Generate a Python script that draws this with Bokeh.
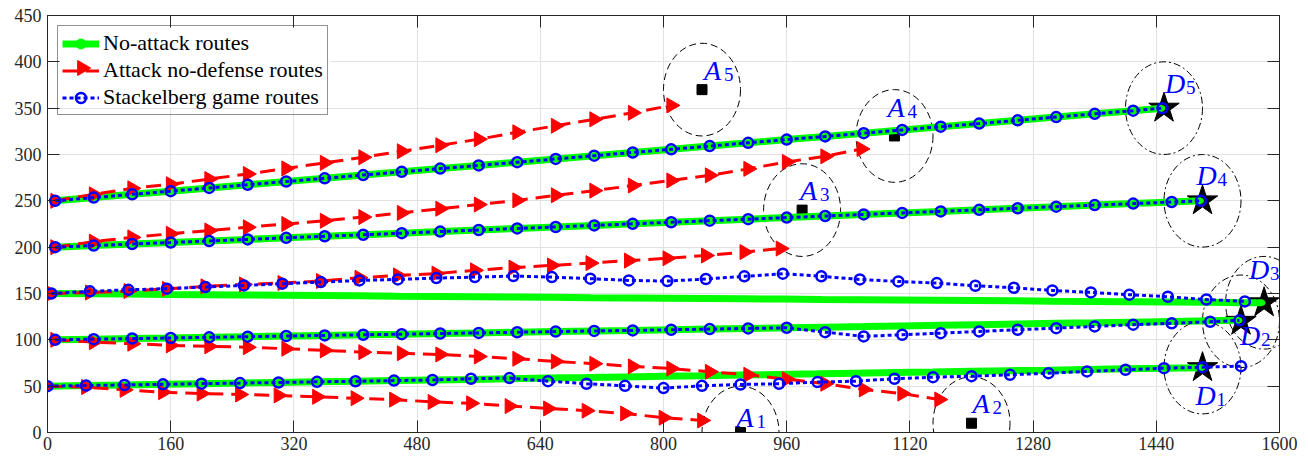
import numpy as np
from bokeh.plotting import figure
from bokeh.models import (Range1d, FixedTicker, LinearAxis, Legend, LegendItem,
                          ColumnDataSource, CustomJSTickFormatter)
from bokeh.core.properties import value
from bokeh.embed import file_html
from bokeh.resources import INLINE

# ---------------- data ----------------
x_ticks = [0, 160, 320, 480, 640, 800, 960, 1120, 1280, 1440, 1600]
y_ticks = [0, 50, 100, 150, 200, 250, 300, 350, 400, 450]

# attackers and destinations
att_x = [900, 1200, 980, 1100, 850]
att_y = [0, 10, 240, 320, 370]
att_name = ["A", "A", "A", "A", "A"]
att_sub = ["1", "2", "3", "4", "5"]

dst_x = [1500, 1550, 1580, 1500, 1450]
dst_y = [70, 120, 140, 250, 350]
dst_name = ["D", "D", "D", "D", "D"]
dst_sub = ["1", "2", "3", "4", "5"]
zone_radius = 50

# no-attack routes (green)
g_x1 = [0, 50, 100, 150, 200, 250, 300, 350, 400, 450, 500, 550, 600, 650, 700, 750,
        800, 850, 900, 950, 1000, 1050, 1100, 1150, 1200, 1250, 1300, 1350, 1400,
        1450, 1500]
g_y1 = [50, 50.7, 51.3, 52, 52.7, 53.3, 54, 54.7, 55.3, 56, 56.7, 57.3, 58, 58.7,
        59.3, 60, 60.7, 61.3, 62, 62.7, 63.3, 64, 64.7, 65.3, 66, 66.7, 67.3, 68,
        68.7, 69.3, 70]
g_x2 = [10, 60, 110, 160, 210, 260, 310, 360, 410, 460, 510, 560, 610, 660, 710, 760,
        810, 860, 910, 960, 1010, 1060, 1110, 1160, 1210, 1260, 1310, 1360, 1410,
        1460, 1510, 1548]
g_y2 = [100, 100.7, 101.4, 102, 102.7, 103.4, 104.1, 104.8, 105.5, 106.1, 106.8,
        107.5, 108.2, 108.9, 109.6, 110.2, 110.9, 111.6, 112.3, 113, 113.7, 114.3,
        115, 115.7, 116.4, 117.1, 117.8, 118.4, 119.1, 119.8, 120.5, 121]
g_x3 = [5, 55, 105, 155, 205, 255, 305, 355, 405, 455, 505, 555, 605, 655, 705, 755,
        805, 855, 905, 955, 1005, 1055, 1105, 1155, 1205, 1255, 1305, 1355, 1405,
        1455, 1505, 1555, 1578]
g_y3 = [150, 149.7, 149.4, 149, 148.7, 148.4, 148.1, 147.8, 147.5, 147.1, 146.8,
        146.5, 146.2, 145.9, 145.5, 145.2, 144.9, 144.6, 144.3, 144, 143.6, 143.3,
        143, 142.7, 142.4, 142.1, 141.7, 141.4, 141.1, 140.8, 140.5, 140.1, 140]
g_x4 = [10, 60, 110, 160, 210, 260, 310, 360, 410, 460, 510, 560, 610, 660, 710, 760,
        810, 860, 910, 960, 1010, 1060, 1110, 1160, 1210, 1260, 1310, 1360, 1410,
        1460, 1498]
g_y4 = [200, 201.7, 203.4, 205, 206.7, 208.4, 210.1, 211.8, 213.4, 215.1, 216.8,
        218.5, 220.2, 221.8, 223.5, 225.2, 226.9, 228.6, 230.2, 231.9, 233.6, 235.3,
        237, 238.6, 240.3, 242, 243.7, 245.4, 247, 248.7, 250]
g_x5 = [10, 60, 110, 160, 210, 260, 310, 360, 410, 460, 510, 560, 610, 660, 710, 760,
        810, 860, 910, 960, 1010, 1060, 1110, 1160, 1210, 1260, 1310, 1360, 1410, 1448]
g_y5 = [250, 253.5, 257, 260.4, 263.9, 267.4, 270.9, 274.3, 277.8, 281.3, 284.8,
        288.2, 291.7, 295.2, 298.7, 302.2, 305.6, 309.1, 312.6, 316.1, 319.5, 323,
        326.5, 330, 333.4, 336.9, 340.4, 343.9, 347.3, 350]

# attack, no defense (red)
r_x1 = [0, 50, 100, 150, 200, 250, 300, 350, 400, 450, 500, 550, 600, 650, 700, 750,
        800, 850]
r_y1 = [50, 49, 46, 43.5, 42, 41, 40, 38.5, 37, 35.5, 33, 31.5, 28.5, 26, 23.5, 20.5,
        16, 13]
r_x2 = [10, 60, 110, 160, 210, 260, 310, 360, 410, 460, 510, 560, 610, 660, 710, 760,
        810, 860, 910, 960, 1010, 1060, 1110, 1158]
r_y2 = [100, 97.5, 95.8, 94, 93, 92, 90.4, 88.6, 86.7, 85.5, 84.2, 82, 79.6, 76.7,
        74.2, 71.3, 69, 65.5, 62.3, 57.5, 52.6, 46.5, 42, 35.6]
r_x3 = [5, 55, 105, 155, 205, 255, 305, 355, 405, 455, 505, 555, 605, 655, 705, 755,
        805, 855, 905, 952]
r_y3 = [150, 151, 152.6, 155, 157.7, 159.8, 161.3, 163.5, 167, 169.5, 171.5, 175, 178,
        180.3, 182.8, 185.5, 188, 191, 194.7, 198.5]
r_x4 = [10, 60, 110, 160, 210, 260, 310, 360, 410, 460, 510, 560, 610, 660, 710, 760,
        810, 860, 910, 960, 1010, 1057]
r_y4 = [200, 206, 210.5, 214.5, 218, 221.5, 225, 228.5, 232.5, 237, 241.5, 246, 250.5,
        256, 261, 266.5, 272, 277.5, 284.5, 292, 298, 306]
r_x5 = [10, 60, 110, 160, 210, 260, 310, 360, 410, 460, 510, 560, 610, 660, 710, 760,
        810]
r_y5 = [250, 257, 263.5, 268, 273.5, 279, 285, 291, 297, 303.5, 310, 316.5, 324, 331,
        338, 345, 353]

# Stackelberg game (blue)
b_x1 = [0, 50, 100, 150, 200, 250, 300, 350, 400, 450, 500, 550, 600, 650, 700, 750,
        800, 850, 900, 950, 1000, 1050, 1100, 1150, 1200, 1250, 1300, 1350, 1400,
        1450, 1500, 1550]
b_y1 = [50, 50.7, 51.3, 52, 52.7, 53.3, 54, 54.7, 55.3, 56, 56.7, 58, 58.7, 55.4,
        52.6, 50.4, 47.9, 50.4, 51.8, 52.6, 54.4, 55.4, 58, 59.7, 60.8, 62.3, 64,
        65.9, 67.7, 69.4, 70.5, 71.6]
b_x2 = g_x2
b_y2 = [100, 100.7, 101.4, 102, 102.7, 103.4, 104.1, 104.8, 105.5, 106.1, 106.8,
        107.5, 108.2, 108.9, 109.6, 110.2, 110.9, 111.6, 112.3, 113, 108.3, 103.7,
        105.5, 107.2, 109.1, 110.9, 112.6, 114.5, 116.4, 117.8, 119.5, 121]
b_x3 = [5, 55, 105, 155, 205, 255, 305, 355, 405, 455, 505, 555, 605, 655, 705, 755,
        805, 855, 905, 955, 1005, 1055, 1105, 1155, 1205, 1255, 1305, 1355, 1405,
        1455, 1505, 1555]
b_y3 = [150, 152.3, 154, 155.2, 157, 158.7, 160.6, 162.3, 164.1, 165.2, 166.6, 167.7,
        168.8, 167.7, 166, 164.1, 163.4, 165.6, 168.5, 171.4, 168.5, 165.2, 163,
        161.2, 158.4, 156.2, 153.3, 151.2, 148.7, 146.5, 143.5, 141.5]
b_x4, b_y4 = g_x4, g_y4
b_x5, b_y5 = g_x5, g_y5

green_routes = [(g_x1, g_y1), (g_x2, g_y2), (g_x3, g_y3), (g_x4, g_y4), (g_x5, g_y5)]
red_routes = [(r_x1, r_y1), (r_x2, r_y2), (r_x3, r_y3), (r_x4, r_y4), (r_x5, r_y5)]
blue_routes = [(b_x1, b_y1), (b_x2, b_y2), (b_x3, b_y3), (b_x4, b_y4), (b_x5, b_y5)]

# ---------------- styling ----------------
AX_COLOR = "#262626"
SERIF = "Liberation Serif"
GREEN = "#00ff00"
RED = "#ff0000"
BLUE = "#0000ff"

W, H = 1308, 458
BORDER_L, BORDER_R, BORDER_T, BORDER_B = 47, 29, 15, 26
X_MAX, Y_MAX = 1600, 450
frame_w = W - BORDER_L - BORDER_R
frame_h = H - BORDER_T - BORDER_B


def frame_to_data(px, py):
    """Pixel offsets from the frame's top-left corner -> data coordinates."""
    return px * X_MAX / frame_w, Y_MAX - py * Y_MAX / frame_h


p = figure(width=W, height=H, output_backend="svg", toolbar_location=None,
           x_range=Range1d(0, X_MAX), y_range=Range1d(0, Y_MAX),
           min_border_left=BORDER_L, min_border_right=BORDER_R,
           min_border_top=BORDER_T, min_border_bottom=BORDER_B)
p.background_fill_color = "white"
p.border_fill_color = "white"
p.outline_line_color = AX_COLOR
p.outline_line_width = 1

p.xaxis.ticker = FixedTicker(ticks=x_ticks)
p.yaxis.ticker = FixedTicker(ticks=y_ticks)
for ax in [p.xaxis[0], p.yaxis[0]]:
    ax.major_label_text_font = SERIF
    ax.major_label_text_font_size = "18px"
    ax.major_label_text_color = AX_COLOR
    ax.axis_line_color = AX_COLOR
    ax.major_tick_line_color = AX_COLOR
    ax.major_tick_in = 12
    ax.major_tick_out = 0
    ax.minor_tick_line_color = None
p.xaxis.major_label_standoff = 4
p.yaxis.major_label_standoff = 6

# box axes on top and right: ticks only
blank = CustomJSTickFormatter(code="return ''")
top_ax = LinearAxis(ticker=FixedTicker(ticks=x_ticks), formatter=blank,
                    major_label_standoff=0, major_tick_in=12, major_tick_out=0,
                    minor_tick_line_color=None, axis_line_color=AX_COLOR,
                    major_tick_line_color=AX_COLOR)
right_ax = LinearAxis(ticker=FixedTicker(ticks=y_ticks), formatter=blank,
                      major_label_standoff=0, major_tick_in=12, major_tick_out=0,
                      minor_tick_line_color=None, axis_line_color=AX_COLOR,
                      major_tick_line_color=AX_COLOR)
p.add_layout(top_ax, "above")
p.add_layout(right_ax, "right")

p.xgrid.ticker = FixedTicker(ticks=x_ticks)
p.ygrid.ticker = FixedTicker(ticks=y_ticks)
p.grid.grid_line_color = "#e2e2e2"
p.grid.grid_line_width = 1

# legend geometry (screen pixels)
LEG_MARGIN, LEG_PAD, LEG_SPACING = 10, 4, 1
LEG_GLYPH_W, LEG_ROW_H = 37, 25
LEG_BOX_W, LEG_BOX_H = 273, 82

# white panel behind the (transparent) legend so the grid stays hidden there
bx0, by0 = frame_to_data(LEG_MARGIN, LEG_MARGIN)
bx1, by1 = frame_to_data(LEG_MARGIN + LEG_BOX_W, LEG_MARGIN + LEG_BOX_H)
p.quad(left=[bx0], right=[bx1], top=[by0], bottom=[by1],
       fill_color="white", line_color=None)

# zones around attackers (dashed) and destinations (dash-dot)
p.ellipse(x=att_x, y=att_y, width=2 * zone_radius, height=2 * zone_radius,
          fill_color=None, line_color="black", line_width=1, line_dash="7 4")
p.ellipse(x=dst_x, y=dst_y, width=2 * zone_radius, height=2 * zone_radius,
          fill_color=None, line_color="black", line_width=1, line_dash="7 3 2 3")
p.scatter(x=att_x, y=att_y, marker="square", size=10, fill_color="black",
          line_color="black")
p.scatter(x=dst_x, y=dst_y, marker="star", size=32, fill_color="black",
          line_color="black")

TRI_SIZE = 15
legend_parts = {}
for i, (xs, ys) in enumerate(green_routes):
    ln = p.line(xs, ys, line_color=GREEN, line_width=7)
    mk = p.scatter(xs, ys, marker="circle", size=5, fill_color=GREEN, line_color=GREEN)
    if i == 0:
        legend_parts["g"] = [ln, mk]
for i, (xs, ys) in enumerate(red_routes):
    ln = p.line(xs, ys, line_color=RED, line_width=3, line_dash="15 8")
    mk = p.scatter(xs, ys, marker="triangle", angle=-np.pi / 2, size=TRI_SIZE,
                   fill_color=RED, line_color=RED)
    if i == 0:
        legend_parts["r"] = [ln]
for i, (xs, ys) in enumerate(blue_routes):
    ln = p.line(xs, ys, line_color=BLUE, line_width=3, line_dash="4 3")
    mk = p.scatter(xs, ys, marker="circle", size=10, fill_color=None,
                   line_color=BLUE, line_width=2.5)
    if i == 0:
        legend_parts["b"] = [ln, mk]

# the legend draws markers unrotated, so the right-pointing key of the red entry
# is placed at the centre of that entry's glyph slot
kx, ky = frame_to_data(LEG_MARGIN + LEG_PAD + LEG_GLYPH_W / 2 + 2,
                       LEG_MARGIN + LEG_PAD + LEG_ROW_H + LEG_SPACING + LEG_ROW_H / 2)
p.scatter(x=[kx], y=[ky], marker="triangle", angle=-np.pi / 2, size=TRI_SIZE,
          fill_color=RED, line_color=RED)

# labels: letter with subscript index, placed by screen offsets from each marker
att_dx = [-4, 1, -2, -7, 2]
att_dy = [-15, -20, -20, -28, -19]
dst_dx = [-7, -1, -15, -6, 1]
dst_dy = [28, 14, -33, -25, -25]

lab = ColumnDataSource(dict(
    x=att_x + dst_x, y=att_y + dst_y,
    name=att_name + dst_name, sub=att_sub + dst_sub,
    dx=att_dx + dst_dx, dy=att_dy + dst_dy,
    sdx=[d + 20 for d in att_dx] + [d + 21 for d in dst_dx],
    sdy=[d + 4 for d in att_dy] + [d + 4 for d in dst_dy],
))
p.text(x="x", y="y", text="name", source=lab, x_offset="dx", y_offset="dy",
       text_font=value(SERIF), text_font_style="italic", text_font_size="28px",
       text_color=BLUE, text_align="left", text_baseline="alphabetic")
p.text(x="x", y="y", text="sub", source=lab, x_offset="sdx", y_offset="sdy",
       text_font=value(SERIF), text_font_size="19px",
       text_color=BLUE, text_align="left", text_baseline="alphabetic")

legend = Legend(items=[
    LegendItem(label="No-attack routes", renderers=legend_parts["g"]),
    LegendItem(label="Attack no-defense routes", renderers=legend_parts["r"]),
    LegendItem(label="Stackelberg game routes", renderers=legend_parts["b"]),
], location="top_left")
legend.margin = LEG_MARGIN
legend.padding = LEG_PAD
legend.spacing = LEG_SPACING
legend.label_text_font = SERIF
legend.label_text_font_size = "22px"
legend.label_text_color = "black"
legend.label_standoff = 4
legend.glyph_width = LEG_GLYPH_W
legend.glyph_height = LEG_ROW_H
legend.label_height = LEG_ROW_H
legend.border_line_color = AX_COLOR
legend.border_line_width = 1
legend.background_fill_alpha = 0
p.add_layout(legend)

open("out.html", "w").write(file_html(p, INLINE))
